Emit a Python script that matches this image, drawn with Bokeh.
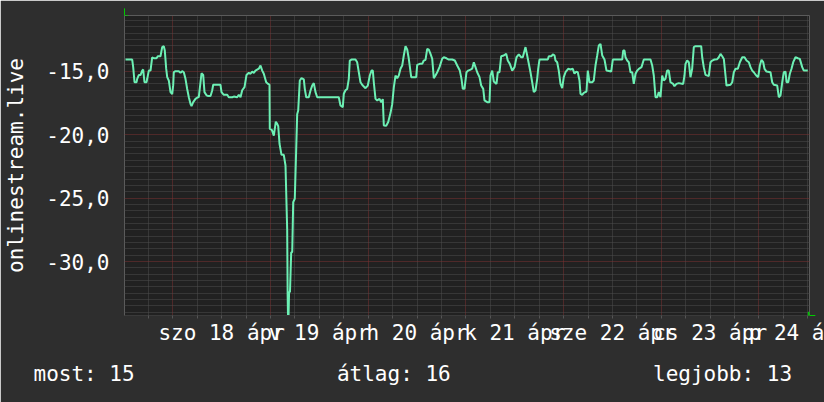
import math
from bokeh.plotting import figure
from bokeh.models import (FixedTicker, CustomJSTickFormatter, Arrow, NormalHead,
                          Range1d, Title)
from bokeh.embed import file_html
from bokeh.resources import INLINE

# ---- data (hours since graph start, about 2020-04-17 12:08) ----
hours = [
    0.25, 1.89, 2.14, 2.46, 2.95, 3.12, 3.51, 3.93, 4.35, 4.59, 4.91, 5.40, 5.58, 5.97, 6.39,
    6.80, 7.20, 7.86, 8.18, 8.84, 9.26, 9.65, 9.90, 10.24, 10.49, 10.88, 11.30, 11.72, 11.96,
    12.11, 12.53, 13.34, 13.76, 14.17, 14.57, 14.98, 15.40, 15.80, 16.21, 16.46, 16.88, 17.44,
    18.01, 18.25, 18.67, 18.92, 19.33, 19.65, 20.14, 20.56, 21.13, 21.54, 21.79, 23.58, 23.83,
    24.39, 25.23, 25.62, 26.46, 26.85, 27.68, 28.08, 28.50, 28.91, 29.48, 29.97, 30.53, 30.95,
    31.37, 31.76, 32.18, 32.99, 33.41, 33.83, 34.22, 34.81, 35.30, 35.62, 35.69, 36.11, 36.28,
    36.68, 37.17, 37.51, 37.76, 38.08, 38.57, 39.13, 39.55, 39.96, 40.08, 40.16, 40.30, 40.43,
    40.65, 40.95, 41.20, 41.44, 41.83, 42.18, 42.42, 42.67, 43.06, 43.48, 44.05, 44.29, 44.64,
    45.27, 45.69, 46.11, 46.50, 46.92, 47.34, 52.64, 53.06, 53.62, 53.87, 54.29, 54.70, 55.10,
    55.34, 55.76, 56.74, 57.16, 57.56, 57.97, 58.54, 59.20, 59.77, 60.26, 60.68, 61.00, 61.24,
    61.66, 62.08, 62.64, 63.06, 63.45, 63.70, 64.29, 64.78, 65.34, 65.76, 66.15, 66.57, 66.99,
    67.38, 67.80, 68.22, 68.61, 69.03, 69.45, 69.84, 70.43, 71.66, 71.90, 72.54, 73.13, 73.52,
    73.94, 74.36, 74.75, 75.17, 75.59, 75.98, 76.40, 76.82, 77.38, 78.04, 78.44, 79.10, 79.67,
    80.50, 81.14, 81.73, 82.37, 82.78, 83.10, 83.52, 84.01, 84.43, 85.00, 85.41, 85.81, 86.22,
    86.64, 87.21, 87.62, 88.12, 88.43, 89.10, 89.66, 89.91, 90.33, 90.72, 91.38, 91.70, 92.12,
    92.53, 93.17, 93.76, 94.15, 94.65, 95.24, 95.81, 96.30, 96.86, 97.45, 97.84, 98.51, 98.92,
    99.73, 100.15, 100.54, 100.96, 101.38, 101.62, 101.94, 103.98, 104.23, 104.89, 105.21,
    105.63, 105.87, 106.29, 106.68, 107.10, 107.52, 107.91, 108.33, 108.99, 109.56, 110.12,
    110.54, 110.96, 111.35, 111.77, 112.01, 112.43, 112.82, 113.49, 113.81, 114.22, 114.89,
    115.28, 115.70, 116.12, 116.51, 116.93, 117.35, 117.91, 118.40, 119.56, 119.95, 122.26,
    122.51, 122.83, 123.07, 123.49, 123.88, 124.30, 124.72, 125.11, 125.53, 125.95, 126.34,
    127.00, 127.57, 129.21, 129.63, 130.02, 130.44, 130.86, 131.25, 131.67, 132.08, 132.48,
    132.89, 133.31, 133.70, 134.12, 134.78, 135.10, 135.59, 136.16, 137.24, 137.56, 137.81,
    138.22, 138.62, 139.03, 139.45, 139.85, 140.26, 141.66, 141.91, 142.30, 142.72, 143.53,
    143.95, 144.37, 144.93, 145.60, 145.99, 146.41, 146.83, 147.22, 147.64, 147.88, 148.87,
    149.29, 149.68, 150.10, 150.67, 151.16, 151.75, 152.31, 152.80, 153.37, 153.78, 154.20,
    154.59, 155.18, 155.67, 156.07, 156.48, 156.90, 157.22, 157.71, 158.69, 159.11, 159.50,
    160.34, 160.73, 161.15, 161.57, 161.96, 162.38, 162.63, 163.04, 163.44, 163.85, 164.27,
    164.83, 165.40, 165.89, 166.48, 166.87, 167.85,
]
values = [
    -14.08, -14.08, -14.70, -15.87, -15.87, -15.60, -15.30, -15.30, -14.95, -14.87, -15.87,
    -15.87, -15.60, -14.95, -14.95, -13.90, -13.98, -13.98, -13.82, -13.82, -13.10, -13.03,
    -13.37, -14.80, -15.47, -15.73, -16.65, -16.80, -16.10, -15.08, -15.00, -15.00, -15.13,
    -15.00, -15.08, -15.60, -16.40, -17.05, -17.57, -17.75, -17.44, -17.18, -17.05, -17.05,
    -15.87, -15.16, -15.29, -16.65, -16.90, -16.95, -16.95, -16.52, -16.07, -16.07, -16.65,
    -16.86, -16.86, -17.05, -17.05, -17.00, -17.05, -16.86, -17.05, -16.50, -16.26, -15.29,
    -15.13, -15.20, -15.03, -15.13, -14.95, -14.80, -14.55, -14.95, -15.20, -15.87, -16.00,
    -16.07, -19.54, -19.60, -19.70, -20.07, -18.98, -19.15, -19.33, -20.72, -21.59, -21.59,
    -22.43, -27.42, -32.70, -34.20, -34.20, -32.40, -32.40, -29.26, -29.26, -25.32, -25.05,
    -21.12, -18.40, -18.10, -15.73, -15.55, -15.65, -16.39, -17.05, -17.05, -16.52, -16.13,
    -15.94, -16.65, -17.05, -17.05, -17.70, -17.83, -16.78, -16.50, -16.40, -15.60, -14.16,
    -14.08, -14.08, -14.30, -15.08, -15.87, -16.13, -16.34, -16.13, -15.34, -14.95, -14.95,
    -15.87, -17.18, -17.30, -17.18, -17.44, -17.20, -19.28, -19.30, -19.00, -18.30, -17.60,
    -16.30, -15.34, -15.55, -15.34, -14.81, -14.55, -13.76, -13.03, -13.29, -14.02, -15.47,
    -15.47, -14.50, -14.42, -14.42, -14.16, -14.10, -13.24, -13.30, -13.63, -14.02, -15.55,
    -15.34, -15.08, -14.68, -14.02, -13.90, -13.98, -14.08, -14.08, -14.16, -14.55, -14.95,
    -15.60, -16.39, -16.39, -15.08, -14.95, -14.87, -14.80, -14.30, -14.68, -15.08, -15.47,
    -16.13, -16.39, -17.30, -17.44, -17.44, -15.34, -14.95, -15.81, -16.00, -15.08, -15.08,
    -13.82, -13.76, -13.63, -14.16, -14.42, -14.95, -14.68, -13.90, -13.68, -13.90, -13.90,
    -13.10, -13.76, -15.08, -15.87, -16.65, -16.52, -15.60, -14.81, -14.08, -14.08, -13.82,
    -13.82, -13.68, -13.75, -14.16, -14.29, -14.95, -16.00, -16.34, -15.47, -15.08, -14.81,
    -14.87, -14.81, -15.20, -15.03, -15.08, -15.73, -16.78, -16.86, -16.70, -16.60, -14.95,
    -15.87, -15.87, -15.73, -14.55, -13.76, -12.98, -12.85, -13.76, -14.08, -14.95, -15.03,
    -14.08, -14.08, -13.37, -13.37, -13.90, -14.16, -14.29, -15.08, -15.08, -16.00, -15.20,
    -14.95, -14.81, -14.68, -14.08, -14.08, -14.55, -15.34, -17.05, -17.05, -16.65, -17.05,
    -15.34, -15.73, -15.60, -14.95, -14.95, -15.87, -16.00, -16.18, -16.00, -15.94, -16.00,
    -15.34, -14.42, -14.16, -14.29, -15.47, -14.81, -13.10, -13.03, -13.03, -13.90, -14.68,
    -15.29, -15.39, -14.29, -14.16, -14.08, -14.05, -13.90, -13.63, -13.82, -14.03, -15.34,
    -16.13, -16.07, -15.87, -15.08, -14.81, -14.81, -14.29, -13.90, -13.90, -14.16, -14.29,
    -14.68, -14.95, -15.08, -15.34, -15.47, -14.55, -14.10, -14.29, -14.81, -15.03, -15.08,
    -15.87, -16.07, -16.13, -17.05, -16.90, -15.87, -15.08, -15.03, -15.87, -15.87, -15.20,
    -14.81, -14.29, -13.90, -13.98, -14.03, -14.68, -14.95, -14.95,
]

# the last label is cut by the image edge in the original ("p 24 á")
day_labels = ["szo 18 ápr", "v 19 ápr", "h 20 ápr", "k 21 ápr",
              "sze 22 ápr", "cs 23 ápr", "p 24 á"]
first_midnight = 11.86          # hours from graph start to 2020-04-18 00:00
y_major = [-30, -25, -20, -15]
y_title = "onlinestream.live"
legend_texts = ["most: 15", "átlag: 16", "legjobb: 13"]

X_END = 168.27
Y_MIN, Y_MAX = -34.25, -10.61

FONT = "DejaVu Sans Mono"
FS = "21px"
TXT = "#ffffff"
LINE = "#6cf0b4"
ARROW = "#00cc00"

midnights = [first_midnight + 24 * k for k in range(7)]
noons = [m + 12 for m in midnights]
six_hours = [first_midnight - 6 + 6 * k for k in range(0, 29) if k % 4 != 1]
six_hours = [t for t in six_hours if 0 <= t <= X_END]
y_minor = [v / 2 for v in range(-68, -21) if v % 10 != 0]

p = figure(width=824, height=402, x_range=Range1d(0, X_END), y_range=Range1d(Y_MIN, Y_MAX),
           output_backend="svg", toolbar_location=None,
           background_fill_color="#212121", border_fill_color="#2e2e2e",
           min_border_left=124, min_border_right=15, min_border_top=15, min_border_bottom=87)
p.outline_line_color = None

p.line(hours, values, line_color=LINE, line_width=2)

# grids
p.xgrid.ticker = FixedTicker(ticks=midnights, minor_ticks=six_hours)
p.ygrid.ticker = FixedTicker(ticks=y_major, minor_ticks=y_minor)
for g in (p.xgrid, p.ygrid):
    g.grid_line_color = "#7e3232"
    g.grid_line_dash = "1 1"
    g.minor_grid_line_color = "#4e4e4e"
    g.minor_grid_line_dash = "1 1"

# y axis
ya = p.yaxis[0]
ya.ticker = FixedTicker(ticks=y_major)
ya.formatter = CustomJSTickFormatter(code="return tick.toFixed(1).replace('.', ',');")
ya.major_label_text_font = FONT
ya.major_label_text_font_size = FS
ya.major_label_text_color = TXT
ya.axis_line_color = None
ya.major_tick_line_color = None
ya.minor_tick_line_color = None
ya.major_tick_out = 0
ya.major_tick_in = 0
ya.major_label_standoff = 15
ya.axis_label = y_title
ya.axis_label_text_font = FONT
ya.axis_label_text_font_size = FS
ya.axis_label_text_font_style = "normal"
ya.axis_label_text_color = TXT
ya.axis_label_standoff = 15

# x axis
xa = p.xaxis[0]
xa.ticker = FixedTicker(ticks=noons, minor_ticks=six_hours + midnights)
xa.formatter = CustomJSTickFormatter(args=dict(labels=day_labels), code="return labels[index];")
xa.major_label_text_font = FONT
xa.major_label_text_font_size = FS
xa.major_label_text_color = TXT
xa.axis_line_color = "#3a3a3a"
xa.major_tick_line_color = None
xa.major_tick_out = 0
xa.major_tick_in = 0
xa.minor_tick_line_color = "#555555"
xa.minor_tick_out = 3
xa.minor_tick_in = 0
xa.major_label_standoff = 2

# arrows at axis ends
p.add_layout(Arrow(end=NormalHead(size=7, fill_color=ARROW, line_color=ARROW),
                   x_start=0, y_start=Y_MAX, x_end=0, y_end=-10.05,
                   line_color=ARROW, line_width=1))
p.add_layout(Arrow(end=NormalHead(size=7, fill_color=ARROW, line_color=ARROW),
                   x_start=X_END, y_start=Y_MIN, x_end=169.7, y_end=Y_MIN,
                   line_color=ARROW, line_width=1))

# bottom legend line (monospace, spaced like the original)
legend_line = ("\u00a0" * 16).join(legend_texts)
p.add_layout(Title(text=legend_line, align="left", offset=-91, standoff=24,
                   text_font=FONT, text_font_size=FS, text_font_style="normal",
                   text_color=TXT), "below")

open("out.html", "w").write(file_html(p, INLINE))
